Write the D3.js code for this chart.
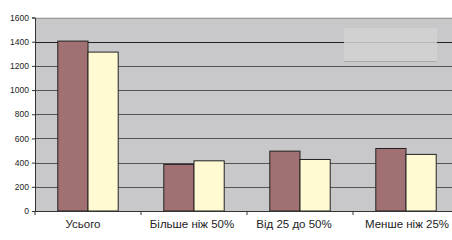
<!DOCTYPE html>
<html>
<head>
<meta charset="utf-8">
<script src="https://cdn.jsdelivr.net/npm/d3@7"></script>
<style>
  body { margin: 0; background: #fff; }
  svg { display: block; font-family: "Liberation Sans", Arial, sans-serif; }
</style>
</head>
<body>
<div id="chart"></div>
<script>
var categories = ["Усього", "Більше ніж 50%", "Від 25 до 50%", "Менше ніж 25%"];
var series1 = [1405, 385, 495, 517];
var series2 = [1314, 415, 426, 468];
var yTicks = [0, 200, 400, 600, 800, 1000, 1200, 1400, 1600];

var width = 452, height = 240;
var margin = {top: 17.5, left: 35, bottom: 29};
var plotW = 424;
var plotH = height - margin.top - margin.bottom;
// small nudges of the category labels, as placed in the original
var labelShift = [-5, -2, -6, 1];

var svg = d3.select("#chart").append("svg")
  .attr("width", width)
  .attr("height", height);

var x = d3.scaleBand()
  .domain(categories)
  .range([margin.left, margin.left + plotW])
  .paddingInner(0.43)
  .paddingOuter(0.215);

var y = d3.scaleLinear()
  .domain([0, 1600])
  .range([margin.top + plotH, margin.top]);

// plot background
svg.append("rect")
  .attr("x", margin.left)
  .attr("y", margin.top)
  .attr("width", plotW)
  .attr("height", plotH)
  .attr("fill", "#c8c8ca");

// gridlines
svg.selectAll("line.grid")
  .data(yTicks.slice(1))
  .enter().append("line")
  .attr("class", "grid")
  .attr("x1", margin.left)
  .attr("x2", margin.left + plotW)
  .attr("y1", function(d) { return Math.round(y(d)) + 0.5; })
  .attr("y2", function(d) { return Math.round(y(d)) + 0.5; })
  .attr("stroke", function(d) { return d === 1600 ? "#999" : (d === 1400 ? "#222" : "#555"); })
  .attr("stroke-width", 1.2);

// legend box (empty)
svg.append("rect")
  .attr("x", 344)
  .attr("y", 28)
  .attr("width", 93)
  .attr("height", 33)
  .attr("fill", "#d2d2d4")
  .attr("opacity", 0.85);
svg.append("line")
  .attr("x1", 344).attr("x2", 436)
  .attr("y1", 61.5).attr("y2", 61.5)
  .attr("stroke", "#a8a8a8");

var sub = d3.scaleBand()
  .domain([0, 1])
  .range([0, x.bandwidth()]);

var groups = svg.selectAll("g.grp")
  .data(categories)
  .enter().append("g")
  .attr("class", "grp")
  .attr("transform", function(d) { return "translate(" + x(d) + ",0)"; });

groups.append("rect")
  .attr("x", sub(0))
  .attr("y", function(d, i) { return y(series1[i]); })
  .attr("width", sub.bandwidth())
  .attr("height", function(d, i) { return y(0) - y(series1[i]); })
  .attr("fill", "#a07072")
  .attr("stroke", "#222")
  .attr("stroke-width", 1);

groups.append("rect")
  .attr("x", sub(1))
  .attr("y", function(d, i) { return y(series2[i]); })
  .attr("width", sub.bandwidth())
  .attr("height", function(d, i) { return y(0) - y(series2[i]); })
  .attr("fill", "#fffad2")
  .attr("stroke", "#222")
  .attr("stroke-width", 1);

// y axis
var yAxis = svg.append("g")
  .attr("transform", "translate(" + margin.left + ",0)")
  .call(d3.axisLeft(y).tickValues(yTicks).tickFormat(d3.format("d")).tickSize(3).tickPadding(3));
yAxis.select(".domain").attr("stroke", "#333");
yAxis.selectAll("line").attr("stroke", "#333");
yAxis.selectAll("text").attr("font-size", 8.5).attr("fill", "#222")
  .attr("font-family", "Liberation Sans, Arial, sans-serif");

// x axis
var xAxis = svg.append("g")
  .attr("transform", "translate(0," + (margin.top + plotH) + ")");
xAxis.append("line")
  .attr("x1", margin.left).attr("x2", margin.left + plotW)
  .attr("y1", 0.5).attr("y2", 0.5)
  .attr("stroke", "#333");
xAxis.selectAll("line.tick")
  .data(d3.range(5))
  .enter().append("line")
  .attr("class", "tick")
  .attr("x1", function(d) { return margin.left + d * x.step(); })
  .attr("x2", function(d) { return margin.left + d * x.step(); })
  .attr("y1", 0).attr("y2", 4)
  .attr("stroke", "#333");
xAxis.selectAll("text")
  .data(categories)
  .enter().append("text")
  .attr("x", function(d, i) { return x(d) + x.bandwidth() / 2 + labelShift[i]; })
  .attr("y", 17)
  .attr("text-anchor", "middle")
  .attr("font-size", 11.5)
  .attr("fill", "#222")
  .text(function(d) { return d; });
</script>
</body>
</html>
